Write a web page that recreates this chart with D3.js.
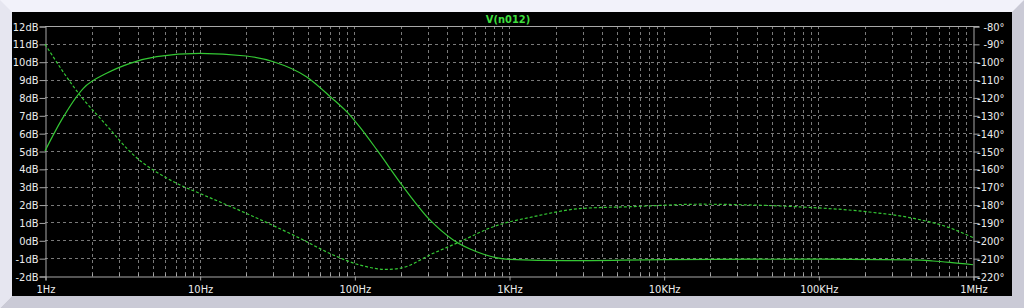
<!DOCTYPE html>
<html>
<head>
<meta charset="utf-8">
<script src="https://cdn.jsdelivr.net/npm/d3@7"></script>
<style>
  body { margin: 0; background: #fff; }
  text { font-family: "DejaVu Sans Condensed", "DejaVu Sans", sans-serif; font-stretch: condensed; font-size: 11px; }
</style>
</head>
<body>
<div id="chart"></div>
<script>
// magnitude trace V(n012), dB
var magFreq = [1, 1.28, 1.77, 2.5, 3.55, 5.27, 10, 20, 30, 49, 70, 94, 108, 140, 207, 308, 436, 618, 1000, 2360, 10000, 100000, 409000, 550000, 710000, 1000000];
var magDb   = [5.0, 6.74, 8.51, 9.35, 9.91, 10.28, 10.47, 10.32, 10.0, 9.16, 8.04, 7.0, 6.36, 5.06, 3.0, 1.14, 0.02, -0.64, -1.07, -1.14, -1.08, -1.05, -1.1, -1.16, -1.24, -1.37];

// phase trace, degrees
var phFreq = [1, 1.7, 2.5, 3.55, 7.1, 10, 20, 42.4, 73, 108, 162, 197, 324, 482, 791, 1435, 3020, 6060, 17200, 36000, 84000, 205000, 411000, 676000, 1000000];
var phDeg  = [-90.2, -119.2, -135.6, -150.4, -168.1, -173.7, -184.9, -198, -208.2, -213.8, -216.3, -215.7, -207.3, -200.8, -192.4, -186.8, -182.1, -181.2, -179.8, -180.2, -181.5, -184, -187.7, -192.4, -198.5];

// axis ticks
var freqTicks = [1, 10, 100, 1000, 10000, 100000, 1000000];
var freqLabels = ["1Hz", "10Hz", "100Hz", "1KHz", "10KHz", "100KHz", "1MHz"];
var dbTicks = d3.range(-2, 13, 1);
var degTicks = d3.range(-220, -79, 10);

var W = 1024, H = 308;
var svg = d3.select("#chart").append("svg")
    .attr("width", W)
    .attr("height", H);

// window frame
svg.append("rect").attr("x", 0).attr("y", 0).attr("width", W).attr("height", H).attr("fill", "#cacad6");
svg.append("polygon").attr("points", "0,0 1024,0 1012,12 12,12 12,296 0,308").attr("fill", "#f2f2fa");
svg.append("polygon").attr("points", "0,0 12,12 12,296 0,308").attr("fill", "#e6e6f0");
svg.append("rect").attr("x", 12).attr("y", 12).attr("width", 1000).attr("height", 284).attr("fill", "#000");

var x = d3.scaleLog().domain([1, 1e6]).range([45, 973]);
var yL = d3.scaleLinear().domain([-2, 12]).range([276, 26]);
var yR = d3.scaleLinear().domain([-220, -80]).range([276, 26]);

var gridColor = "#7a7a7a", axisColor = "#a8a8a8", textColor = "#ececec";

// vertical grid (1..9 per decade)
var minor = [];
for (var e = 0; e < 6; e++) {
    for (var k = 1; k < 10; k++) {
        var f = k * Math.pow(10, e);
        if (f > 1) minor.push(f);
    }
}
svg.append("g").selectAll("line")
    .data(minor)
    .enter().append("line")
    .attr("x1", d => Math.round(x(d)) + 0.5)
    .attr("x2", d => Math.round(x(d)) + 0.5)
    .attr("y1", 26).attr("y2", 276)
    .attr("stroke", gridColor)
    .attr("stroke-dasharray", "3,3");

// horizontal grid
svg.append("g").selectAll("line")
    .data(dbTicks.filter(d => d > -2 && d < 12))
    .enter().append("line")
    .attr("x1", 45).attr("x2", 973)
    .attr("y1", d => Math.round(yL(d)) + 0.5)
    .attr("y2", d => Math.round(yL(d)) + 0.5)
    .attr("stroke", gridColor)
    .attr("stroke-dasharray", "3,3");

// left axis
var yAxisL = d3.axisLeft(yL).tickValues(dbTicks).tickSize(6).tickPadding(1).tickFormat(d => d + "dB");
var gL = svg.append("g").attr("transform", "translate(45.5,0.5)").call(yAxisL);

// right axis
var yAxisR = d3.axisRight(yR).tickValues(degTicks).tickSize(6).tickPadding(1).tickFormat(d => d + "°");
var gR = svg.append("g").attr("transform", "translate(973.5,0.5)").call(yAxisR);
gR.selectAll("text").attr("text-anchor", "end").attr("x", 31);

// bottom axis
var xAxis = d3.axisBottom(x).tickValues(freqTicks).tickSize(4).tickPadding(5)
    .tickFormat((d, i) => freqLabels[i]);
var gB = svg.append("g").attr("transform", "translate(0.5,276.5)").call(xAxis);
gB.selectAll(".minor").data(minor.filter(d => freqTicks.indexOf(d) < 0))
    .enter().append("line").attr("class", "minor")
    .attr("x1", d => Math.round(x(d))).attr("x2", d => Math.round(x(d)))
    .attr("y1", 0).attr("y2", -3)
    .attr("stroke", axisColor);

// top line
svg.append("line")
    .attr("x1", 45).attr("x2", 979)
    .attr("y1", 26.5).attr("y2", 26.5)
    .attr("stroke", axisColor);

[gL, gR, gB].forEach(function (g) {
    g.select(".domain").attr("stroke", axisColor);
    g.selectAll(".tick line").attr("stroke", axisColor);
    g.selectAll("text").attr("fill", textColor).style("font-size", "11px");
});

// traces
var magLine = d3.line()
    .x((d, i) => x(magFreq[i]))
    .y(d => yL(d))
    .curve(d3.curveMonotoneX);
svg.append("path")
    .attr("d", magLine(magDb))
    .attr("fill", "none")
    .attr("stroke", "#34c834")
    .attr("stroke-width", 1.2);

var phLine = d3.line()
    .x((d, i) => x(phFreq[i]))
    .y(d => yR(d))
    .curve(d3.curveMonotoneX);
svg.append("path")
    .attr("d", phLine(phDeg))
    .attr("fill", "none")
    .attr("stroke", "#34c834")
    .attr("stroke-width", 1.2)
    .attr("stroke-dasharray", "3,2");

// title
svg.append("text")
    .attr("x", 508)
    .attr("y", 23)
    .attr("text-anchor", "middle")
    .attr("fill", "#3ede3e")
    .style("font-weight", "bold")
    .text("V(n012)");
</script>
</body>
</html>
